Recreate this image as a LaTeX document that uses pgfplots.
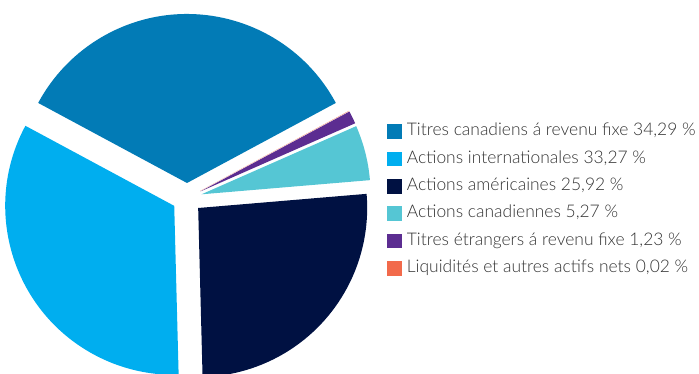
\documentclass[border=0pt]{standalone}
\usepackage{pgfplots}
\pgfplotsset{compat=1.18}
\usepackage{fontspec}
\setmainfont{Lato Light}[BoldFont=Lato]
\definecolor{c1}{HTML}{027BB6}
\definecolor{c2}{HTML}{00AEEF}
\definecolor{c3}{HTML}{001142}
\definecolor{c4}{HTML}{55C6D4}
\definecolor{c5}{HTML}{5C2D91}
\definecolor{c6}{HTML}{F26A4B}
\definecolor{txt}{HTML}{333333}
\begin{document}
\begin{tikzpicture}
\begin{axis}[
  at={(0,0)}, anchor=south west,
  scale only axis, width=699bp, height=374bp,
  xmin=0, xmax=699, ymin=0, ymax=374,
  hide axis, clip=true,
  legend style={at={(axis cs:387,253.5)}, anchor=north west, draw=none, fill=none,
    font=\fontsize{17.5}{20}\selectfont, text=txt, row sep=6.4bp,
    nodes={inner sep=2bp, text height=13bp, text depth=4bp},
    cells={anchor=west}, inner sep=0pt},
  legend image code/.code={\fill[#1] (0bp,-6.8bp) rectangle (14bp,6.8bp); \path[draw=none,fill=none] (0bp,0bp) rectangle (17.5bp,0.1bp);},
]
\def\cx{187}\def\cy{176}\def\R{169}\def\d{15}
\pgfmathsetmacro\start{90-34.29*1.8}
\xdef\start{\start}
\foreach \v/\c in {34.29/c1, 33.27/c2, 25.92/c3, 5.27/c4, 1.23/c5, 0.02/c6} {
  \pgfmathsetmacro\e{\start+3.6*\v}
  \pgfmathsetmacro\m{(\start+\e)/2}
  \pgfmathsetmacro\ox{\cx+\d*cos(\m)}
  \pgfmathsetmacro\oy{\cy+\d*sin(\m)}
  \edef\temp{\noexpand\fill[\c] (axis cs:\ox,\oy) -- ++(\start:\R bp) arc[start angle=\start, end angle=\e, radius=\R bp] -- cycle;}
  \temp
  \xdef\start{\e}
}
\addlegendimage{c1}\addlegendentry{Titres canadiens á revenu fixe 34,29~\%}
\addlegendimage{c2}\addlegendentry{Actions internationales 33,27~\%}
\addlegendimage{c3}\addlegendentry{Actions américaines 25,92~\%}
\addlegendimage{c4}\addlegendentry{Actions canadiennes 5,27~\%}
\addlegendimage{c5}\addlegendentry{Titres étrangers á revenu fixe 1,23~\%}
\addlegendimage{c6}\addlegendentry{Liquidités et autres actifs nets 0,02~\%}
\end{axis}
\pgfresetboundingbox
\useasboundingbox (0,0) rectangle (699bp,374bp);
\end{tikzpicture}
\end{document}
